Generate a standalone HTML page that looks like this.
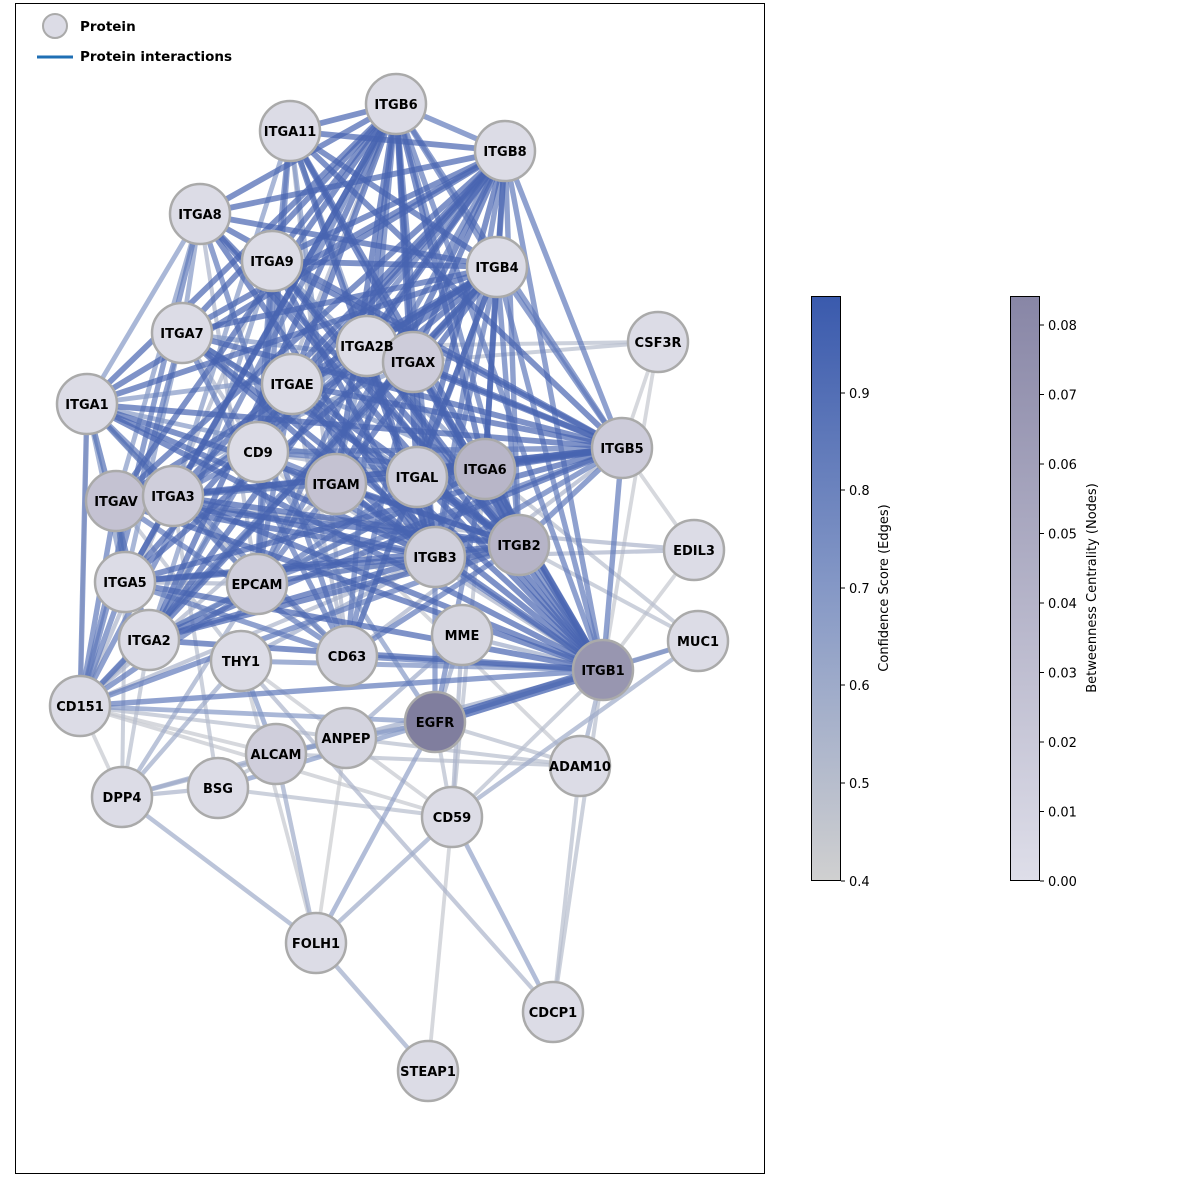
<!DOCTYPE html>
<html><head><meta charset="utf-8"><style>
body{margin:0;background:#fff;width:1200px;height:1188px;overflow:hidden}
svg text{font-family:"DejaVu Sans","Liberation Sans",sans-serif}
</style></head><body>
<svg id="s" width="1200" height="1188" xmlns="http://www.w3.org/2000/svg">
<defs>
<linearGradient id="g1" x1="0" y1="1" x2="0" y2="0"><stop offset="0" stop-color="#d0d0d0"/><stop offset="0.5" stop-color="#8598c6"/><stop offset="1" stop-color="#3a5aad"/></linearGradient>
<linearGradient id="g2" x1="0" y1="1" x2="0" y2="0"><stop offset="0" stop-color="#dedee9"/><stop offset="1" stop-color="#8886a6"/></linearGradient>
</defs>
<rect x="15.5" y="3.5" width="749" height="1170" fill="#fff" stroke="#000" stroke-width="1"/>
<g id="edges"></g><g id="nodes"></g><g id="labels"></g>
<circle cx="55" cy="26" r="12" fill="#dcdce6" stroke="#aaa" stroke-width="2"/>
<text x="80" y="31" font-size="13.5" font-weight="bold">Protein</text>
<line x1="37" y1="57" x2="73" y2="57" stroke="#1f6fb4" stroke-width="3"/>
<text x="80" y="61" font-size="13.5" font-weight="bold">Protein interactions</text>
<rect x="811.5" y="296.5" width="29" height="584" fill="url(#g1)" stroke="#000" stroke-width="1"/>
<rect x="1010.5" y="296.5" width="29" height="584" fill="url(#g2)" stroke="#000" stroke-width="1"/>
<g id="ticks" font-size="13"></g>
<text transform="translate(888,588) rotate(-90)" text-anchor="middle" font-size="13">Confidence Score (Edges)</text>
<text transform="translate(1096,588) rotate(-90)" text-anchor="middle" font-size="13">Betweenness Centrality (Nodes)</text>
</svg>
<script>
var N={ITGB6:[396,104],ITGA11:[290,131],ITGB8:[505,151],ITGA8:[200,214],ITGA9:[272,261],ITGB4:[497,267],CSF3R:[658,342],ITGA7:[182,333],ITGA2B:[367,346],ITGAX:[413,362],ITGAE:[292,384],ITGA1:[87,404],ITGB5:[622,448],CD9:[258,452],ITGAM:[336,484],ITGAL:[417,477],ITGA6:[485,469],ITGAV:[116,501],ITGA3:[173,496],EDIL3:[694,550],ITGB2:[519,545],ITGB3:[435,557],ITGA5:[125,582],EPCAM:[257,584],MME:[462,635],MUC1:[698,641],ITGA2:[149,640],THY1:[241,661],CD63:[347,656],ITGB1:[603,670],CD151:[80,706],EGFR:[435,722],ANPEP:[346,738],ALCAM:[276,754],ADAM10:[580,766],DPP4:[122,797],BSG:[218,788],CD59:[452,817],FOLH1:[316,943],CDCP1:[553,1012],STEAP1:[428,1071]};
var F={ITGB1:"#9896b0",EGFR:"#807e9e",ITGB2:"#b6b4c7",ITGA6:"#b8b6c8",ITGAM:"#c4c2d2",ITGAV:"#c4c2d2",ITGAL:"#cfcfdc",ITGA3:"#cfcedb",ITGAX:"#cdccda",EPCAM:"#cfcedb",ITGB3:"#d0d0dc",ITGB5:"#cdccda",CD63:"#d4d4df",ALCAM:"#cfcedb",ANPEP:"#d4d4df",MME:"#d6d6e0"};
var A=["ITGA11","ITGA8","ITGA9","ITGA7","ITGA2B","ITGAX","ITGAE","ITGA1","ITGAM","ITGAL","ITGA6","ITGAV","ITGA3","ITGA5","ITGA2"];
var B=["ITGB6","ITGB8","ITGB4","ITGB5","ITGB2","ITGB3","ITGB1"];
var E=[];
function col(s){var t=(s-0.4)/0.6;var c0=[208,208,208],c1=[58,90,173];var m=t<0.5?[c0,[133,152,198],t*2]:[[133,152,198],c1,(t-0.5)*2];var r=[0,1,2].map(i=>Math.round(m[0][i]+(m[1][i]-m[0][i])*m[2]));return "rgb("+r+")";}
A.forEach(a=>B.forEach(b=>E.push([a,b,0.95])));
for(var i=0;i<A.length;i++)for(var j=i+1;j<A.length;j++)if((i*7+j*3)%4==0)E.push([A[i],A[j],0.7]);
for(var i=0;i<B.length;i++)for(var j=i+1;j<B.length;j++)E.push([B[i],B[j],0.85]);
["CD9","CD151","EPCAM","CD63"].forEach((c,k)=>A.concat(B).forEach((x,m)=>{if((m+k)%2==0)E.push([c,x,0.85]);else if((m+k)%3==0)E.push([c,x,0.55]);}));
var o=[["EGFR","ITGB1",1.0],["EGFR","ITGB3",0.8],["EGFR","ITGA6",0.8],["EGFR","CD9",0.7],["EGFR","CD151",0.7],["EGFR","MUC1",0.6],["EGFR","ADAM10",0.5],["EGFR","CD59",0.5],["EGFR","ANPEP",0.6],["MUC1","ITGB1",0.75],["MUC1","CD59",0.6],["MUC1","ITGA6",0.5],["MUC1","ITGB2",0.5],["EDIL3","ITGB5",0.45],["EDIL3","ITGB3",0.55],["EDIL3","ITGAV",0.55],["EDIL3","ITGB1",0.45],["CSF3R","ITGB5",0.45],["CSF3R","ITGA2B",0.5],["CSF3R","ITGB1",0.45],["CSF3R","ITGAX",0.5],["ADAM10","ITGB1",0.6],["ADAM10","CD151",0.5],["ADAM10","ALCAM",0.5],["ADAM10","CDCP1",0.5],["ADAM10","CD9",0.45],["CDCP1","CD59",0.65],["CDCP1","ITGB1",0.5],["CDCP1","THY1",0.55],["STEAP1","FOLH1",0.6],["STEAP1","CD59",0.45],["FOLH1","DPP4",0.6],["FOLH1","ALCAM",0.6],["FOLH1","CD59",0.6],["FOLH1","EGFR",0.65],["FOLH1","ANPEP",0.42],["FOLH1","THY1",0.45],["DPP4","BSG",0.55],["DPP4","ALCAM",0.6],["DPP4","THY1",0.6],["DPP4","ITGA2",0.5],["DPP4","ITGA5",0.5],["DPP4","CD151",0.45],["DPP4","ANPEP",0.6],["DPP4","EPCAM",0.6],["BSG","CD59",0.5],["BSG","ALCAM",0.5],["BSG","ITGB1",0.7],["BSG","ITGA3",0.5],["ALCAM","ANPEP",0.6],["ALCAM","EGFR",0.7],["ALCAM","CD151",0.45],["ALCAM","THY1",0.7],["ANPEP","MME",0.6],["ANPEP","ITGB1",0.6],["MME","ITGB1",0.6],["MME","CD59",0.55],["MME","EGFR",0.6],["THY1","ITGB3",0.6],["THY1","ITGB1",0.75],["THY1","ITGAV",0.5],["THY1","CD59",0.45],["CD151","ITGA1",0.45],["CD151","CD59",0.45],["CD59","ITGB1",0.5],["CD59","ITGA6",0.5],["ITGA1","ITGA3",0.9],["ITGAV","ITGA5",0.9],["ITGA5","ITGA3",0.85],["ITGA2","ITGA1",0.9]];
E=E.concat(o);
E.sort((a,b)=>a[2]-b[2]);
var ns="http://www.w3.org/2000/svg",eg=document.getElementById("edges"),ng=document.getElementById("nodes"),lg=document.getElementById("labels");
E.forEach(e=>{var p=N[e[0]],q=N[e[1]];if(!p||!q)return;var l=document.createElementNS(ns,"line");l.setAttribute("x1",p[0]);l.setAttribute("y1",p[1]);l.setAttribute("x2",q[0]);l.setAttribute("y2",q[1]);l.setAttribute("stroke",col(e[2]));l.setAttribute("stroke-width",e[0]=="EGFR"&&e[1]=="ITGB1"?10:(2+e[2]*4));l.setAttribute("stroke-opacity",0.7);eg.appendChild(l);});
for(var k in N){var c=document.createElementNS(ns,"circle");c.setAttribute("cx",N[k][0]);c.setAttribute("cy",N[k][1]);c.setAttribute("r",30);c.setAttribute("fill",F[k]||"#dcdce6");c.setAttribute("stroke","#aaa");c.setAttribute("stroke-width",2.5);ng.appendChild(c);var t=document.createElementNS(ns,"text");t.setAttribute("x",N[k][0]);t.setAttribute("y",N[k][1]+5);t.setAttribute("text-anchor","middle");t.setAttribute("font-size","13");t.setAttribute("font-weight","bold");t.textContent=k;lg.appendChild(t);}
var tg=document.getElementById("ticks");
function tk(x,y,s){var l=document.createElementNS(ns,"line");l.setAttribute("x1",x);l.setAttribute("x2",x+4);l.setAttribute("y1",y);l.setAttribute("y2",y);l.setAttribute("stroke","#000");tg.appendChild(l);var t=document.createElementNS(ns,"text");t.setAttribute("x",x+8);t.setAttribute("y",y+5);t.textContent=s;tg.appendChild(t);}
[[0.9,393],[0.8,490],[0.7,588],[0.6,685],[0.5,783],[0.4,881]].forEach(a=>tk(841,a[1],a[0].toFixed(1)));
for(var i=0;i<=8;i++)tk(1040,881-i*69.5,(i/100).toFixed(2));
</script>
</body></html>
